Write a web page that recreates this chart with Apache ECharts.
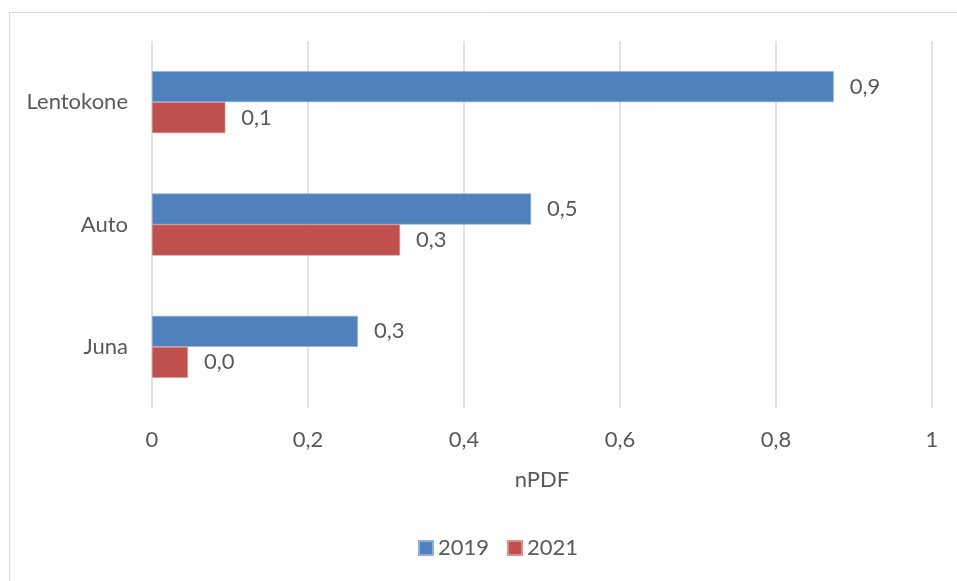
<!DOCTYPE html>
<html>
<head>
<meta charset="utf-8">
<script src="https://cdn.jsdelivr.net/npm/echarts@6/dist/echarts.min.js"></script>
<style>html,body{margin:0;padding:0;background:#fff}#c{width:957px;height:581px}</style>
</head>
<body>
<div id="c"></div>
<script>
var categories = ['Juna', 'Auto', 'Lentokone'];
var values2019 = [0.264, 0.486, 0.874];
var values2021 = [0.046, 0.318, 0.094];
var seriesNames = ['2019', '2021'];
var xTicks = { min: 0, max: 1, interval: 0.2 };

var FONT = 'Lato';
var FS = 22;
var TXT = '#595959';
function comma(v, d) { return (d === undefined ? String(v) : v.toFixed(d)).replace('.', ','); }

var chart = echarts.init(document.getElementById('c'), null, { renderer: 'canvas' });
chart.setOption({
  animation: false,
  backgroundColor: '#fff',
  graphic: [{
    type: 'rect', silent: true,
    shape: { x: 9.5, y: 12.5, width: 1000, height: 700 },
    style: { fill: 'none', stroke: '#d9d9d9', lineWidth: 1 }
  }],
  grid: { left: 152, right: 25, top: 41, bottom: 173, containLabel: false },
  legend: {
    bottom: 17, left: 413,
    data: seriesNames,
    itemWidth: 14, itemHeight: 14, itemGap: 18,
    icon: 'rect',
    textStyle: { fontFamily: FONT, fontSize: FS, color: TXT, padding: [0, 0, 0, 0] }
  },
  xAxis: {
    type: 'value', min: xTicks.min, max: xTicks.max, interval: xTicks.interval,
    name: 'nPDF', nameLocation: 'middle', nameGap: 61,
    nameTextStyle: { fontFamily: FONT, fontSize: FS, color: TXT },
    axisLine: { show: false }, axisTick: { show: false },
    axisLabel: { margin: 21, fontFamily: FONT, fontSize: FS, color: TXT, formatter: function (v) { return comma(Math.round(v * 10) / 10); } },
    splitLine: { show: true, lineStyle: { color: '#d9d9d9', width: 1.5 } }
  },
  yAxis: {
    type: 'category', data: categories,
    axisLine: { show: false }, axisTick: { show: false },
    axisLabel: { margin: 24, fontFamily: FONT, fontSize: FS, color: TXT },
    splitLine: { show: false }
  },
  series: [
    {
      name: seriesNames[0], type: 'bar', data: values2019, barWidth: 31, barGap: '0%',
      itemStyle: { color: '#4f81bd', borderColor: '#8eb0d8', borderWidth: 0.6 },
      label: { show: true, position: 'right', distance: 16, fontFamily: FONT, fontSize: FS, color: TXT, formatter: function (p) { return comma(p.value, 1); } }
    },
    {
      name: seriesNames[1], type: 'bar', data: values2021, barWidth: 31, barGap: '0%',
      itemStyle: { color: '#c0504d', borderColor: '#d98f8d', borderWidth: 0.6 },
      label: { show: true, position: 'right', distance: 16, fontFamily: FONT, fontSize: FS, color: TXT, formatter: function (p) { return comma(p.value, 1); } }
    }
  ]
});
</script>
</body>
</html>
